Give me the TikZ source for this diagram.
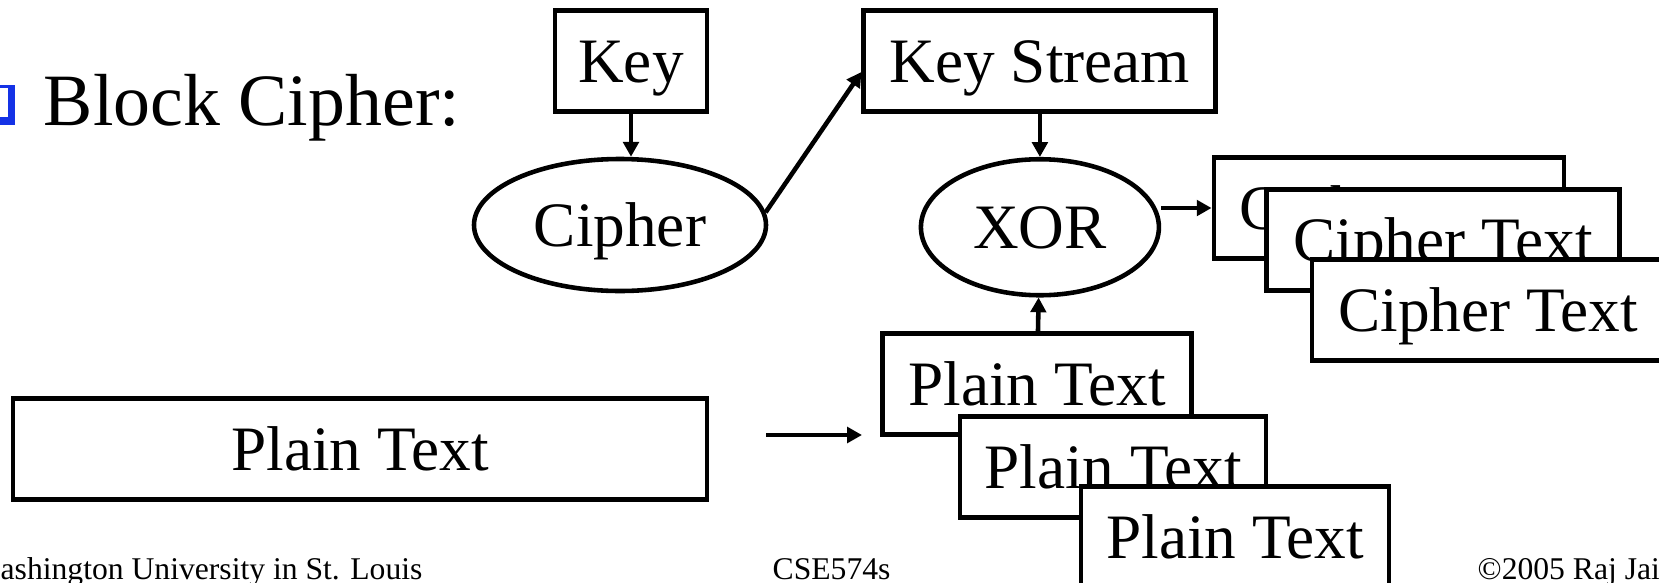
\documentclass[tikz,border=0pt]{standalone}
\usepackage{fontspec}
\setmainfont{Liberation Serif}
\usetikzlibrary{shapes.geometric, arrows.meta, positioning}
\definecolor{bulletblue}{RGB}{20,50,230}
\tikzset{
  box/.style={rectangle, draw=black, fill=white, line width=1.4pt,
    minimum height=1.01cm, font=\fontsize{18}{20}\selectfont,
    text height=12.2pt, text depth=0pt, inner sep=0pt},
  oval/.style={ellipse, draw=black, fill=white, line width=1.3pt,
    font=\fontsize{18}{20}\selectfont, text height=12.2pt, text depth=0pt},
  arrow/.style={-{Triangle[length=4.2pt, width=4.4pt]}, line width=1.3pt},
  footer/.style={anchor=base west, inner sep=0pt, font=\fontsize{9}{10}\selectfont}
}

\begin{document}
\begin{tikzpicture}
  \clip (0,0) rectangle (16.59,5.82);
  % bullet and heading
  \fill[bulletblue] (-0.25,4.57) rectangle (0.147,4.97);
  \fill[white] (-0.3,4.65) rectangle (0.083,4.94);
  \node[anchor=base, inner sep=0pt, font=\fontsize{21}{24}\selectfont] (title) at (2.52,4.57) {Block Cipher:};

  \node[box, minimum width=1.52cm] (key) at (6.31,5.21) {Key};
  \node[box, minimum width=3.52cm, right=1.52cm of key] (ks) {Key Stream};
  \node[oval, minimum width=2.92cm, minimum height=1.32cm] (cipher) at (6.20,3.57) {Cipher};
  \node[oval, minimum width=2.38cm, minimum height=1.36cm, below=0.43cm of ks] (xor) {XOR};

  % cipher text stack
  \node[box, minimum width=3.50cm] (ct1) at (13.89,3.74) {Cipher Text};
  \node[box, minimum width=3.53cm] (ct2) at (14.43,3.42) {Cipher Text};
  \node[box, minimum width=3.52cm] (ct3) at (14.88,2.72) {Cipher Text};

  % plain text stack
  \node[box, minimum width=3.09cm] (pt1) at (10.37,1.98) {Plain Text};
  \node[box, minimum width=3.06cm] (pt2) at (11.13,1.15) {Plain Text};
  \node[box, minimum width=3.08cm] (pt3) at (12.35,0.45) {Plain Text};
  \node[box, minimum width=6.94cm] (plain) at (3.60,1.33) {Plain Text};

  \draw[arrow] (key.south) -- (key.south |- cipher.north);
  \draw[arrow] (cipher.5) -- ([yshift=-1.1mm]ks.west);
  \draw[arrow] (ks) -- (xor);
  \draw[arrow] (pt1) -- (xor);
  \draw[arrow] (xor.east |- ct1.west) -- (ct1.west);
  \coordinate (gapL) at (7.66,1.47);
  \coordinate (gapR) at (8.62,1.47);
  \draw[arrow] (gapL) -- (gapR);

  % footer
  \node[footer] (univ) at (0,0.03) {ashington University in St. Louis};
  \node[footer] (course) at (7.72,0.03) {CSE574s};
  \node[footer] (copy) at (14.77,0.03) {©2005 Raj Jai};
\end{tikzpicture}
\end{document}
